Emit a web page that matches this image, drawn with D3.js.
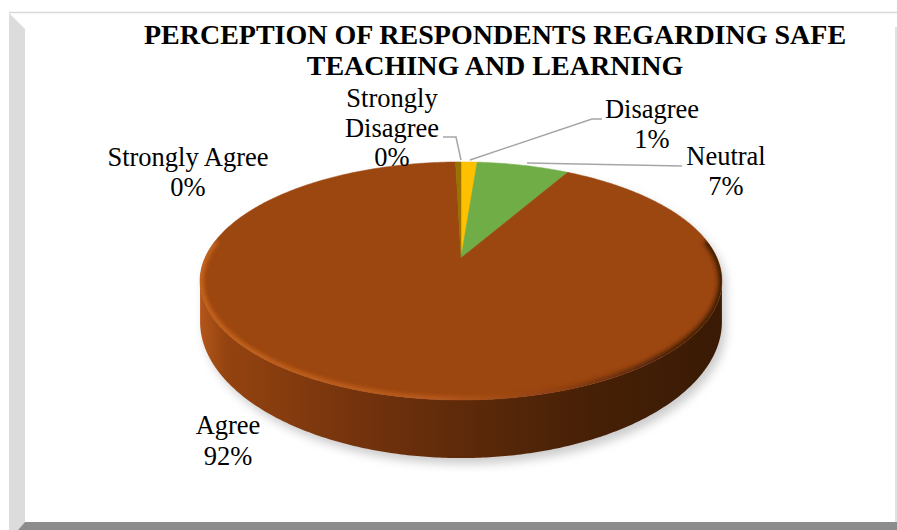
<!DOCTYPE html>
<html>
<head>
<meta charset="utf-8">
<script src="https://cdn.jsdelivr.net/npm/d3@7"></script>
<style>
  html, body { margin: 0; padding: 0; background: #ffffff; }
  svg { display: block; }
  text { font-family: "Liberation Serif", "Times New Roman", serif; fill: #000; }
</style>
</head>
<body>
<svg id="chart" width="897" height="530"></svg>
<script>
// ---- data ----
const titleLines = ["PERCEPTION OF RESPONDENTS REGARDING SAFE", "TEACHING AND LEARNING"];
const categories = ["Strongly Disagree", "Disagree", "Neutral", "Agree", "Strongly Agree"];
const percentages = [0, 1.2, 6.9, 91.5, 0.4];
const sliceColors = ["#4472c4", "#ffc000", "#70ad47", "#9c4610", "#997300"];

// ---- label layout (anchor centre x, first baseline y, words per line) ----
const labelLayout = {
  "Strongly Disagree": { x: 392, y: 107, lines: ["Strongly", "Disagree"], gap: 29.5 },
  "Disagree":          { x: 652, y: 118, lines: ["Disagree"], gap: 30 },
  "Neutral":           { x: 726, y: 165, lines: ["Neutral"], gap: 30 },
  "Agree":             { x: 228, y: 434, lines: ["Agree"], gap: 31 },
  "Strongly Agree":    { x: 188, y: 166, lines: ["Strongly Agree"], gap: 29.5 }
};
const leaderLines = {
  "Strongly Disagree": [[443, 137], [456, 137], [461, 160]],
  "Disagree":          [[470, 160], [592, 119], [602, 119]],
  "Neutral":           [[527, 163], [682, 166]]
};

const svg = d3.select("#chart");
const defs = svg.append("defs");

// ---- frame ----
svg.append("polygon").attr("points", "9,13 25,29 25,522 18,530 9,530").attr("fill", "#dcdcdc");
svg.append("polygon").attr("points", "18,530 25,522 897,522 897,530").attr("fill", "#8c8c8c");
svg.append("line").attr("x1", 9).attr("x2", 897).attr("y1", 12.5).attr("y2", 12.5)
  .attr("stroke", "#d9d9d9").attr("stroke-width", 1.5);
svg.append("line").attr("x1", 896).attr("x2", 896).attr("y1", 27).attr("y2", 522)
  .attr("stroke", "#d9d9d9").attr("stroke-width", 1.5);

// ---- title ----
svg.append("g").selectAll("text").data(titleLines).join("text")
  .attr("x", 495).attr("y", (d, i) => 44 + i * 31)
  .attr("text-anchor", "middle").attr("font-size", 28).attr("font-weight", "bold")
  .text(d => d);

// ---- perspective disc projection ----
const apex = { x: 461, y: 258 };   // projected pie centre
const R = 256;                      // disc radius
const tiltY = 114.6;                // vertical half-extent before perspective
const persp = 0.193;                // perspective strength
const wallH = 37.8;                 // wall thickness before perspective

function scaleAt(theta) { return 1 / (1 + persp * Math.cos(theta)); }
function topPt(theta) {
  const s = scaleAt(theta);
  return [apex.x + R * Math.sin(theta) * s, apex.y - tiltY * Math.cos(theta) * s];
}
function botPt(theta) {
  const s = scaleAt(theta);
  const p = topPt(theta);
  return [p[0], p[1] + wallH * s * s];
}
function rimPoints(a0, a1, fn) {
  const n = Math.max(2, Math.ceil(Math.abs(a1 - a0) / 0.01));
  return d3.range(n + 1).map(i => fn(a0 + (a1 - a0) * i / n));
}

const pie = d3.pie().sort(null).value(d => d.value);
const arcs = pie(categories.map((c, i) => ({ name: c, value: percentages[i], color: sliceColors[i] })));

const thetaR = Math.acos(-persp);            // right silhouette
const thetaL = 2 * Math.PI - thetaR;         // left silhouette
const line = d3.line();

// soft drop shadow under the disc
const shadow = defs.append("filter").attr("id", "shadowBlur")
  .attr("x", "-20%").attr("y", "-20%").attr("width", "140%").attr("height", "140%");
shadow.append("feGaussianBlur").attr("stdDeviation", 5);
const outline = rimPoints(0, 2 * Math.PI, t => (t > thetaR && t < thetaL) ? botPt(t) : topPt(t));
svg.append("path").attr("d", line(outline) + "Z")
  .attr("fill", "#cccccc").attr("filter", "url(#shadowBlur)")
  .attr("transform", "translate(4,6)");

// wall gradient
const wallGrad = defs.append("linearGradient").attr("id", "wallGrad")
  .attr("gradientUnits", "userSpaceOnUse").attr("x1", 200).attr("x2", 722).attr("y1", 0).attr("y2", 0);
[[0, "#b3561a"], [0.05, "#94430f"], [0.3, "#74330d"], [0.5, "#5e2a0a"], [0.75, "#462006"], [1, "#3a1a05"]]
  .forEach(([o, c]) => wallGrad.append("stop").attr("offset", o).attr("stop-color", c));

// wall of the Agree slice (the only slice facing the viewer)
const agreeArc = arcs.find(a => a.data.name === "Agree");
const w0 = Math.max(agreeArc.startAngle, thetaR);
const w1 = Math.min(agreeArc.endAngle, thetaL);
const wallPts = rimPoints(w0, w1, topPt).concat(rimPoints(w1, w0, botPt));
svg.append("path").attr("d", line(wallPts) + "Z").attr("fill", "url(#wallGrad)");

// top faces of slices
const topG = svg.append("g");
arcs.forEach(a => {
  if (a.endAngle - a.startAngle <= 0) return;
  const pts = [[apex.x, apex.y]].concat(rimPoints(a.startAngle, a.endAngle, topPt));
  topG.append("path").attr("d", line(pts) + "Z").attr("fill", a.data.color)
    .attr("stroke", a.data.color).attr("stroke-width", 0.5);
});

// bevel along the front rim of the top face
const clip = defs.append("clipPath").attr("id", "topClip");
clip.append("path").attr("d", line(rimPoints(0, 2 * Math.PI, topPt)) + "Z");
const bevelGrad = defs.append("linearGradient").attr("id", "bevelGrad")
  .attr("gradientUnits", "userSpaceOnUse").attr("x1", 200).attr("x2", 722).attr("y1", 0).attr("y2", 0);
[[0, "#c8661f"], [0.45, "#b85a1c"], [0.7, "#8a3d10"], [0.88, "#4a2107"], [1, "#3a1a05"]]
  .forEach(([o, c]) => bevelGrad.append("stop").attr("offset", o).attr("stop-color", c));
const bevelBlur = defs.append("filter").attr("id", "bevelBlur")
  .attr("x", "-10%").attr("y", "-10%").attr("width", "120%").attr("height", "120%");
bevelBlur.append("feGaussianBlur").attr("stdDeviation", 2);
svg.append("g").attr("clip-path", "url(#topClip)")
  .append("path")
  .attr("d", line(rimPoints(Math.PI * 0.45, Math.PI * 1.55, topPt)))
  .attr("fill", "none").attr("stroke", "url(#bevelGrad)").attr("stroke-width", 7)
  .attr("filter", "url(#bevelBlur)");

// ---- leader lines ----
Object.values(leaderLines).forEach(pts => {
  svg.append("path").attr("d", line(pts)).attr("fill", "none")
    .attr("stroke", "#a6a6a6").attr("stroke-width", 1.5);
});

// ---- data labels ----
const labelG = svg.append("g");
arcs.forEach(a => {
  const lay = labelLayout[a.data.name];
  const rows = lay.lines.concat([Math.round(a.data.value) + "%"]);
  labelG.append("text")
    .attr("text-anchor", "middle").attr("font-size", 26.5)
    .selectAll("tspan").data(rows).join("tspan")
    .attr("x", lay.x).attr("y", (d, i) => lay.y + i * lay.gap)
    .text(d => d);
});
</script>
</body>
</html>
